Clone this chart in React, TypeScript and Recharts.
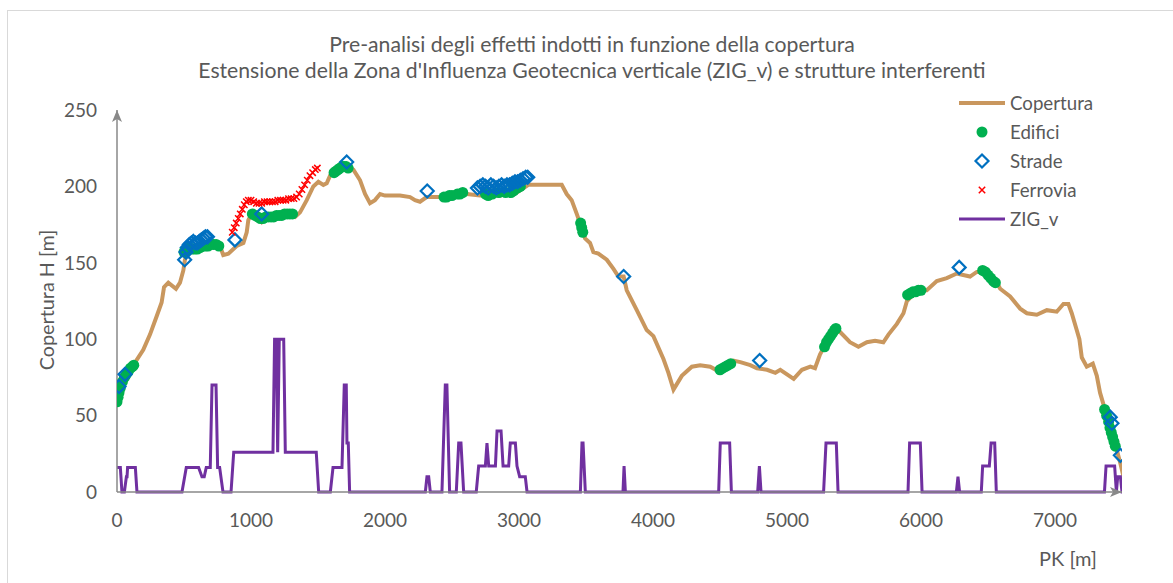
import { ComposedChart, Line, Scatter, XAxis, YAxis } from "recharts";

// Copertura (ground cover) profile along the alignment
const COP_X = [0, 22, 60, 122, 196, 246, 296, 333, 351, 383, 440, 470, 495, 507, 520, 560, 620, 700, 769, 793, 831, 893, 943, 968, 980, 1005, 1050, 1080, 1100, 1200, 1300, 1329, 1366, 1416, 1465, 1503, 1540, 1565, 1590, 1615, 1660, 1714, 1764, 1814, 1851, 1888, 1925, 1963, 2000, 2112, 2187, 2224, 2261, 2311, 2436, 2560, 2610, 2709, 2858, 2983, 3070, 3182, 3319, 3356, 3393, 3431, 3455, 3493, 3530, 3555, 3592, 3655, 3705, 3742, 3781, 3804, 3879, 3953, 4003, 4078, 4115, 4153, 4215, 4290, 4352, 4427, 4489, 4600, 4652, 4726, 4776, 4851, 4913, 4950, 5000, 5050, 5112, 5174, 5209, 5246, 5283, 5371, 5470, 5533, 5596, 5657, 5719, 5757, 5820, 5869, 5895, 5950, 6020, 6043, 6118, 6192, 6267, 6366, 6416, 6466, 6520, 6566, 6591, 6665, 6740, 6790, 6864, 6939, 7013, 7063, 7100, 7125, 7162, 7182, 7200, 7237, 7282, 7312, 7336, 7366, 7400, 7430, 7460, 7490, 7530];
const COP_Y = [60, 67, 75, 83, 93, 103, 115, 124, 134, 137, 133, 137, 145, 152, 155, 158, 159, 161, 161, 155, 156, 161, 163, 170, 178, 182, 181, 177, 180, 180, 181, 180, 183, 191, 200, 203, 201, 202, 207, 211, 213, 214, 211, 204, 195, 189, 191, 195, 194, 194, 193, 191, 190, 193, 193, 195, 195, 194, 194, 196, 201, 201, 201, 195, 191, 182, 176, 166, 163, 157, 156, 152, 146, 141, 141, 132, 119, 106, 102, 87, 78, 67, 76, 82, 83, 82, 79, 86, 85, 83, 81, 80, 78, 80, 77, 74, 80, 82, 81, 90, 96, 107, 98, 95, 98, 99, 98, 103, 110, 117, 125, 130, 132, 132, 138, 140, 143, 141, 144, 144, 140, 137, 133, 128, 120, 117, 116, 119, 118, 123, 123, 117, 106, 100, 88, 82, 84, 76, 65, 56, 47, 37, 28, 18, 3];

// Edifici (buildings)
const EDI_X = [0, 8, 15, 25, 40, 55, 70, 85, 100, 115, 125, 500, 520, 540, 560, 580, 600, 620, 640, 660, 680, 700, 720, 740, 760, 1010, 1030, 1050, 1070, 1090, 1110, 1130, 1150, 1170, 1190, 1210, 1230, 1250, 1270, 1290, 1310, 1620, 1635, 1650, 1665, 1680, 1695, 1710, 1725, 2440, 2460, 2480, 2500, 2540, 2560, 2580, 2750, 2770, 2800, 2850, 2900, 2940, 2960, 2990, 3010, 3460, 3468, 3476, 4500, 4520, 4540, 4560, 4580, 5280, 5295, 5310, 5325, 5340, 5355, 5365, 5900, 5920, 5940, 5960, 5980, 6000, 6460, 6480, 6500, 6520, 6540, 6555, 7370, 7385, 7400, 7410, 7420, 7430, 7440, 7450];
const EDI_Y = [59, 62, 65, 68, 72, 75, 77, 79, 81, 82, 83, 157, 158, 160, 159, 159, 159, 160, 161, 161, 161, 162, 162, 162, 161, 182, 181, 180, 179, 179, 180, 180, 180, 180, 181, 181, 181, 182, 182, 182, 182, 209, 210, 211, 212, 213, 213, 213, 212, 193, 193, 194, 194, 195, 195, 196, 195, 194, 195, 196, 196, 196, 197, 199, 200, 176, 173, 170, 80, 81, 82, 83, 84, 95, 98, 100, 102, 104, 106, 107, 129, 130, 131, 131, 132, 132, 145, 144, 142, 140, 138, 137, 54, 50, 46, 42, 39, 36, 33, 30];

// Strade (roads)
const STR_X = [15, 60, 505, 515, 525, 540, 555, 570, 585, 600, 615, 630, 645, 660, 675, 880, 1080, 1714, 2315, 2690, 2710, 2730, 2750, 2770, 2790, 2810, 2830, 2850, 2870, 2890, 2910, 2930, 2950, 2970, 2990, 3010, 3030, 3050, 3065, 3781, 4796, 6285, 7412, 7425, 7488];
const STR_Y = [69, 77, 152, 157, 160, 162, 163, 164, 163, 163, 164, 165, 166, 167, 167, 165, 182, 216, 197, 199, 200, 201, 200, 199, 201, 200, 199, 200, 201, 200, 201, 201, 202, 203, 203, 204, 205, 206, 206, 141, 86, 147, 49, 45, 24];

// Ferrovia (railway)
const FER_X = [860, 875, 890, 905, 920, 935, 950, 965, 980, 1000, 1020, 1040, 1060, 1080, 1100, 1120, 1140, 1160, 1180, 1200, 1220, 1240, 1260, 1280, 1300, 1320, 1340, 1360, 1380, 1400, 1420, 1440, 1460, 1480, 1495];
const FER_Y = [170, 173, 176, 179, 182, 185, 188, 190, 191, 191, 190, 189, 189, 189, 190, 190, 190, 190, 190, 191, 191, 191, 191, 192, 192, 192, 193, 195, 198, 201, 204, 207, 209, 211, 212];

// ZIG_v
const ZIG_X = [0, 25, 37, 55, 70, 75, 79, 137, 149, 485, 517, 609, 634, 651, 666, 696, 709, 739, 751, 766, 791, 851, 871, 1164, 1176, 1189, 1199, 1211, 1244, 1256, 1487, 1505, 1592, 1612, 1679, 1696, 1711, 1716, 1726, 1736, 2301, 2313, 2326, 2338, 2425, 2450, 2462, 2482, 2532, 2550, 2567, 2587, 2681, 2699, 2749, 2761, 2774, 2824, 2836, 2866, 2881, 2923, 2935, 2973, 2985, 3005, 3047, 3060, 3458, 3470, 3478, 3495, 3776, 3784, 3794, 4490, 4502, 4572, 4585, 4781, 4794, 4806, 5273, 5291, 5368, 5381, 5903, 5915, 5995, 6008, 6264, 6276, 6288, 6450, 6460, 6510, 6523, 6550, 6562, 7369, 7381, 7445, 7458, 7468, 7488, 7500, 7530];
const ZIG_Y = [16, 16, 0, 0, 10, 10, 16, 16, 0, 0, 16, 16, 10, 10, 16, 16, 70, 70, 16, 16, 0, 0, 26, 26, 100, 100, 26, 100, 100, 26, 26, 0, 0, 16, 16, 70, 70, 32, 32, 0, 0, 10, 10, 0, 0, 70, 70, 0, 0, 32, 32, 0, 0, 17, 17, 32, 17, 17, 40, 40, 17, 17, 32, 32, 17, 10, 10, 0, 0, 32, 32, 0, 0, 17, 0, 0, 32, 32, 0, 0, 17, 0, 0, 32, 32, 0, 0, 32, 32, 0, 0, 10, 0, 0, 17, 17, 32, 32, 0, 0, 17, 17, 0, 10, 10, 0, 0];

const X_TICKS = [0, 1000, 2000, 3000, 4000, 5000, 6000, 7000];
const Y_TICKS = [0, 50, 100, 150, 200, 250];

const FONT = "Lato, 'Open Sans', sans-serif";
const TEXT = "#595959";
const AXIS = "#898989";
const C_COP = "#C9975E";
const C_EDI = "#00B050";
const C_STR = "#0070C0";
const C_FER = "#FF0000";
const C_ZIG = "#7030A0";

const pts = (xs: number[], ys: number[]) => xs.map((x, i) => ({ x, y: ys[i] }));

const copertura = pts(COP_X, COP_Y);
const edifici = pts(EDI_X, EDI_Y);
const strade = pts(STR_X, STR_Y);
const ferrovia = pts(FER_X, FER_Y);
const zig = pts(ZIG_X, ZIG_Y);

function Dot(props: any) {
  const { cx, cy } = props;
  return <circle cx={cx} cy={cy} r={5.5} fill={C_EDI} />;
}

function Diamond(props: any) {
  const { cx, cy } = props;
  const s = 6.5;
  return (
    <path
      d={`M${cx},${cy - s}L${cx + s},${cy}L${cx},${cy + s}L${cx - s},${cy}Z`}
      fill="none"
      stroke={C_STR}
      strokeWidth={2.2}
    />
  );
}

function Cross(props: any) {
  const { cx, cy } = props;
  const s = 3.2;
  return (
    <path
      d={`M${cx - s},${cy - s}L${cx + s},${cy + s}M${cx - s},${cy + s}L${cx + s},${cy - s}`}
      stroke={C_FER}
      strokeWidth={1.5}
    />
  );
}

const legendRows = [
  { name: "Copertura", kind: "line", color: C_COP, w: 4 },
  { name: "Edifici", kind: "dot" },
  { name: "Strade", kind: "diamond" },
  { name: "Ferrovia", kind: "cross" },
  { name: "ZIG_v", kind: "line", color: C_ZIG, w: 3 },
];

function LegendIcon({ kind, color, w }: { kind: string; color?: string; w?: number }) {
  return (
    <svg width={48} height={20} style={{ display: "block" }}>
      {kind === "line" && <line x1={0} y1={10} x2={46} y2={10} stroke={color} strokeWidth={w} />}
      {kind === "dot" && <Dot cx={23} cy={10} />}
      {kind === "diamond" && <Diamond cx={23} cy={10} />}
      {kind === "cross" && <Cross cx={23} cy={10} />}
    </svg>
  );
}

export default function App() {
  return (
    <div
      style={{
        position: "absolute",
        left: 7,
        top: 10,
        width: 1200,
        height: 620,
        border: "1px solid #D9D9D9",
        background: "#fff",
        fontFamily: FONT,
        color: TEXT,
        overflow: "hidden",
      }}
    >
      <div
        style={{
          position: "absolute",
          left: 0,
          top: 20,
          width: 1168,
          textAlign: "center",
          fontSize: 21.2,
          lineHeight: "26px",
        }}
      >
        Pre-analisi degli effetti indotti in funzione della copertura
        <br />
        Estensione della Zona d'Influenza Geotecnica verticale (ZIG_v) e strutture interferenti
      </div>

      <ComposedChart
        width={1160}
        height={560}
        margin={{ top: 99, right: 46, left: 0, bottom: 39 }}
        style={{ position: "absolute", left: 0, top: 0 }}
      >
        <defs>
          <marker
            id="axisArrow"
            viewBox="0 0 12 10"
            refX={12}
            refY={5}
            markerUnits="userSpaceOnUse"
            markerWidth={12}
            markerHeight={10}
            orient="auto-start-reverse"
          >
            <path d="M0,0L12,5L0,10L3,5Z" fill={AXIS} />
          </marker>
        </defs>
        <XAxis
          type="number"
          dataKey="x"
          domain={[0, 7500]}
          allowDataOverflow
          ticks={X_TICKS}
          height={40}
          tickLine={false}
          tickMargin={16}
          axisLine={{ stroke: AXIS, strokeWidth: 1.5, markerEnd: "url(#axisArrow)" }}
          tick={{ fill: TEXT, fontSize: 19, fontFamily: FONT }}
        />
        <YAxis
          type="number"
          dataKey="y"
          domain={[0, 250]}
          ticks={Y_TICKS}
          width={109}
          tickLine={false}
          tickMargin={14}
          axisLine={{ stroke: AXIS, strokeWidth: 1.5, markerStart: "url(#axisArrow)" }}
          tick={{ fill: TEXT, fontSize: 19, fontFamily: FONT }}
        />
        <Line
          data={copertura}
          dataKey="y"
          type="linear"
          stroke={C_COP}
          strokeWidth={4}
          dot={false}
          isAnimationActive={false}
          name="Copertura"
        />
        <Scatter data={edifici} dataKey="y" shape={Dot} isAnimationActive={false} name="Edifici" />
        <Scatter data={strade} dataKey="y" shape={Diamond} isAnimationActive={false} name="Strade" />
        <Scatter data={ferrovia} dataKey="y" shape={Cross} isAnimationActive={false} name="Ferrovia" />
        <Line
          data={zig}
          dataKey="y"
          type="linear"
          stroke={C_ZIG}
          strokeWidth={3}
          dot={false}
          isAnimationActive={false}
          name="ZIG_v"
        />
      </ComposedChart>

      <div
        style={{
          position: "absolute",
          left: 38,
          top: 289,
          transform: "translate(-50%, -50%) rotate(-90deg)",
          whiteSpace: "nowrap",
          fontSize: 19.8,
        }}
      >
        Copertura H [m]
      </div>
      <div
        style={{
          position: "absolute",
          left: 1060,
          top: 547,
          transform: "translate(-50%, -50%)",
          whiteSpace: "nowrap",
          fontSize: 20,
        }}
      >
        PK [m]
      </div>

      <div style={{ position: "absolute", left: 951, top: 78 }}>
        {legendRows.map((r) => (
          <div key={r.name} style={{ display: "flex", alignItems: "center", height: 28.8 }}>
            <LegendIcon kind={r.kind} color={r.color} w={r.w} />
            <span style={{ fontSize: 18.7, marginLeft: 3, lineHeight: "20px" }}>{r.name}</span>
          </div>
        ))}
      </div>
    </div>
  );
}
